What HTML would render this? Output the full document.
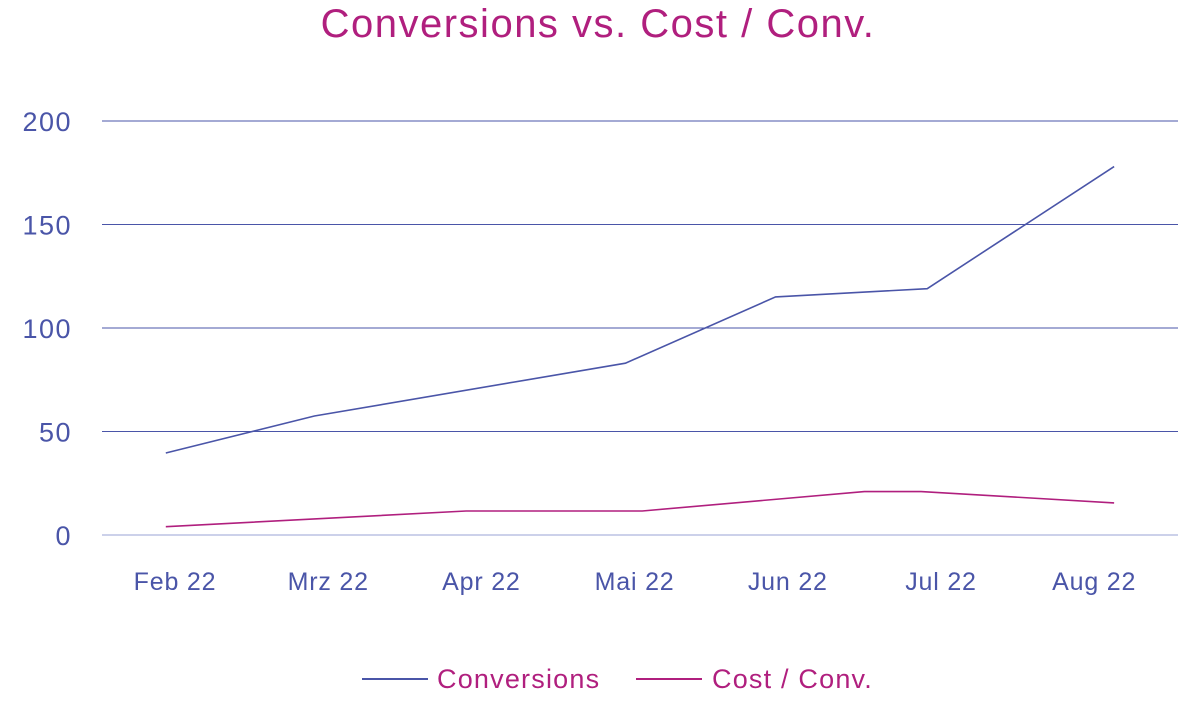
<!DOCTYPE html>
<html><head><meta charset="utf-8"><style>
body{margin:0;background:#fff;width:1200px;height:700px;overflow:hidden;font-family:"Liberation Sans",sans-serif}
</style></head><body>
<svg id="chart" width="1200" height="700">
<text x="598" y="37" text-anchor="middle" font-size="40" letter-spacing="1.5" fill="#b01f7e">Conversions vs. Cost / Conv.</text>
<g id="grid"></g><g id="series"></g>
<g>
<line x1="362" y1="679" x2="428" y2="679" stroke="#4a55a8" stroke-width="2"/>
<text x="437" y="688" font-size="27" letter-spacing="1.2" fill="#b01f7e">Conversions</text>
<line x1="636" y1="679" x2="702" y2="679" stroke="#b01f7e" stroke-width="2"/>
<text x="712" y="688" font-size="27" letter-spacing="1.2" fill="#b01f7e">Cost / Conv.</text>
</g>
</svg>
<script>
const categories=["Feb 22","Mrz 22","Apr 22","Mai 22","Jun 22","Jul 22","Aug 22"];
const yTicks=[0,50,100,150,200];
const convPos=[-0.06,0.91,2.94,3.92,4.91,6.13];
const convVals=[39.6,57.5,83,115,119,178];
const costPos=[-0.06,1.9,3.05,4.5,4.87,6.13];
const costVals=[4,11.6,11.6,21,21,15.5];
const ns="http://www.w3.org/2000/svg";
const x=i=>175+i*153.2;
const y=v=>535-v*2.07;
const grid=document.getElementById('grid'),ser=document.getElementById('series');
function mk(t,a,p){const e=document.createElementNS(ns,t);for(const k in a)e.setAttribute(k,a[k]);p.appendChild(e);return e;}
yTicks.forEach(v=>{
 const l=mk('line',{x1:102,x2:1178,y1:y(v),y2:y(v),stroke:v===0?'#9aa3d6':'#4a55a8','stroke-width':1},grid);
 
 
 const t=mk('text',{x:72,y:y(v)+10,'text-anchor':'end','font-size':27,'letter-spacing':1.5,fill:'#4a55a8'},grid);
 t.textContent=v;
 
 
});
categories.forEach((c,i)=>{
 const t=mk('text',{x:x(i),y:590,'text-anchor':'middle','font-size':25,'letter-spacing':0.8,fill:'#4a55a8'},grid);
 t.textContent=c;
 
 
});
const p1=mk('polyline',{points:convPos.map((p,i)=>x(p)+','+y(convVals[i])).join(' '),fill:'none',stroke:'#4a55a8','stroke-width':1.6},ser);


const p2=mk('polyline',{points:costPos.map((p,i)=>x(p)+','+y(costVals[i])).join(' '),fill:'none',stroke:'#b01f7e','stroke-width':1.6},ser);


</script>
</body></html>
